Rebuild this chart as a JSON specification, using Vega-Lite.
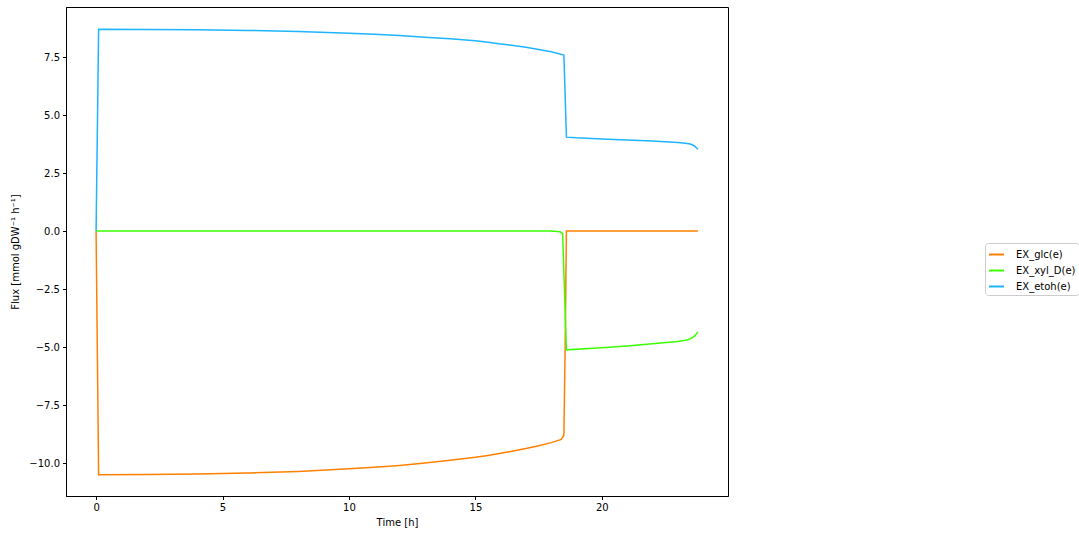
{
  "$schema": "https://vega.github.io/schema/vega-lite/v6.json",
  "width": 662,
  "height": 489,
  "autosize": {"type": "none"},
  "padding": {"left": 66, "top": 7, "right": 351, "bottom": 42},
  "background": "white",
  "config": {
    "font": "DejaVu Sans",
    "view": {"stroke": "black", "strokeWidth": 1},
    "axis": {
      "domainColor": "black",
      "tickColor": "black",
      "tickSize": 3.5,
      "labelFontSize": 10,
      "labelColor": "black",
      "titleFontSize": 10,
      "titleFontWeight": "normal",
      "titleColor": "black",
      "grid": false,
      "labelPadding": 3
    }
  },
  "data": {
    "values": [
      {"series": "EX_glc(e)", "t": 0, "flux": 0},
      {"series": "EX_glc(e)", "t": 0.1, "flux": -10.5},
      {"series": "EX_glc(e)", "t": 2, "flux": -10.49},
      {"series": "EX_glc(e)", "t": 4, "flux": -10.47},
      {"series": "EX_glc(e)", "t": 6, "flux": -10.43},
      {"series": "EX_glc(e)", "t": 8, "flux": -10.36},
      {"series": "EX_glc(e)", "t": 10, "flux": -10.25},
      {"series": "EX_glc(e)", "t": 11, "flux": -10.18},
      {"series": "EX_glc(e)", "t": 12, "flux": -10.1},
      {"series": "EX_glc(e)", "t": 13, "flux": -10.0},
      {"series": "EX_glc(e)", "t": 14, "flux": -9.88},
      {"series": "EX_glc(e)", "t": 15, "flux": -9.75},
      {"series": "EX_glc(e)", "t": 15.5, "flux": -9.67},
      {"series": "EX_glc(e)", "t": 16, "flux": -9.58},
      {"series": "EX_glc(e)", "t": 16.5, "flux": -9.48},
      {"series": "EX_glc(e)", "t": 17, "flux": -9.37},
      {"series": "EX_glc(e)", "t": 17.5, "flux": -9.25},
      {"series": "EX_glc(e)", "t": 18, "flux": -9.12},
      {"series": "EX_glc(e)", "t": 18.4, "flux": -8.98},
      {"series": "EX_glc(e)", "t": 18.5, "flux": -8.8},
      {"series": "EX_glc(e)", "t": 18.55, "flux": -5},
      {"series": "EX_glc(e)", "t": 18.6, "flux": 0},
      {"series": "EX_glc(e)", "t": 23.8, "flux": 0},
      {"series": "EX_xyl_D(e)", "t": 0, "flux": 0},
      {"series": "EX_xyl_D(e)", "t": 18, "flux": 0},
      {"series": "EX_xyl_D(e)", "t": 18.35, "flux": -0.03},
      {"series": "EX_xyl_D(e)", "t": 18.45, "flux": -0.1},
      {"series": "EX_xyl_D(e)", "t": 18.6, "flux": -5.12},
      {"series": "EX_xyl_D(e)", "t": 20, "flux": -5.03},
      {"series": "EX_xyl_D(e)", "t": 21, "flux": -4.95},
      {"series": "EX_xyl_D(e)", "t": 22, "flux": -4.86},
      {"series": "EX_xyl_D(e)", "t": 23, "flux": -4.76},
      {"series": "EX_xyl_D(e)", "t": 23.3, "flux": -4.71},
      {"series": "EX_xyl_D(e)", "t": 23.5, "flux": -4.64},
      {"series": "EX_xyl_D(e)", "t": 23.65, "flux": -4.54},
      {"series": "EX_xyl_D(e)", "t": 23.8, "flux": -4.35},
      {"series": "EX_etoh(e)", "t": 0, "flux": 0},
      {"series": "EX_etoh(e)", "t": 0.1, "flux": 8.7},
      {"series": "EX_etoh(e)", "t": 2, "flux": 8.69},
      {"series": "EX_etoh(e)", "t": 4, "flux": 8.68},
      {"series": "EX_etoh(e)", "t": 6, "flux": 8.65},
      {"series": "EX_etoh(e)", "t": 8, "flux": 8.6},
      {"series": "EX_etoh(e)", "t": 10, "flux": 8.53},
      {"series": "EX_etoh(e)", "t": 11, "flux": 8.48},
      {"series": "EX_etoh(e)", "t": 12, "flux": 8.43},
      {"series": "EX_etoh(e)", "t": 13, "flux": 8.36},
      {"series": "EX_etoh(e)", "t": 14, "flux": 8.29},
      {"series": "EX_etoh(e)", "t": 15, "flux": 8.2},
      {"series": "EX_etoh(e)", "t": 15.5, "flux": 8.14},
      {"series": "EX_etoh(e)", "t": 16, "flux": 8.07},
      {"series": "EX_etoh(e)", "t": 16.5, "flux": 8.0},
      {"series": "EX_etoh(e)", "t": 17, "flux": 7.92},
      {"series": "EX_etoh(e)", "t": 17.5, "flux": 7.83},
      {"series": "EX_etoh(e)", "t": 18, "flux": 7.73},
      {"series": "EX_etoh(e)", "t": 18.5, "flux": 7.59},
      {"series": "EX_etoh(e)", "t": 18.6, "flux": 4.05},
      {"series": "EX_etoh(e)", "t": 19, "flux": 4.02},
      {"series": "EX_etoh(e)", "t": 20, "flux": 3.97},
      {"series": "EX_etoh(e)", "t": 21, "flux": 3.93},
      {"series": "EX_etoh(e)", "t": 22, "flux": 3.88},
      {"series": "EX_etoh(e)", "t": 23, "flux": 3.82},
      {"series": "EX_etoh(e)", "t": 23.3, "flux": 3.79},
      {"series": "EX_etoh(e)", "t": 23.5, "flux": 3.75},
      {"series": "EX_etoh(e)", "t": 23.65, "flux": 3.68},
      {"series": "EX_etoh(e)", "t": 23.8, "flux": 3.53}
    ]
  },
  "mark": {"type": "line", "strokeWidth": 1.5, "clip": true},
  "encoding": {
    "x": {
      "field": "t",
      "type": "quantitative",
      "title": "Time [h]",
      "scale": {"domain": [-1.19, 24.99], "nice": false, "zero": false},
      "axis": {"values": [0, 5, 10, 15, 20], "format": "d", "titlePadding": 5}
    },
    "y": {
      "field": "flux",
      "type": "quantitative",
      "title": "Flux [mmol gDW⁻¹ h⁻¹]",
      "scale": {"domain": [-11.42, 9.66], "nice": false, "zero": false},
      "axis": {"values": [-10, -7.5, -5, -2.5, 0, 2.5, 5, 7.5], "format": ".1f", "titlePadding": 8}
    },
    "color": {
      "field": "series",
      "type": "nominal",
      "scale": {
        "domain": ["EX_glc(e)", "EX_xyl_D(e)", "EX_etoh(e)"],
        "range": ["#ff8000", "#3cff00", "#1eb4ff"]
      },
      "legend": {
        "title": null,
        "orient": "none",
        "legendX": 919,
        "legendY": 236,
        "symbolType": "stroke",
        "symbolSize": 225,
        "symbolStrokeWidth": 2,
        "labelFontSize": 10,
        "labelColor": "black",
        "labelOffset": 11,
        "rowPadding": 2,
        "padding": 3,
        "strokeColor": "#cccccc",
        "fillColor": "white",
        "cornerRadius": 3
      }
    }
  }
}
